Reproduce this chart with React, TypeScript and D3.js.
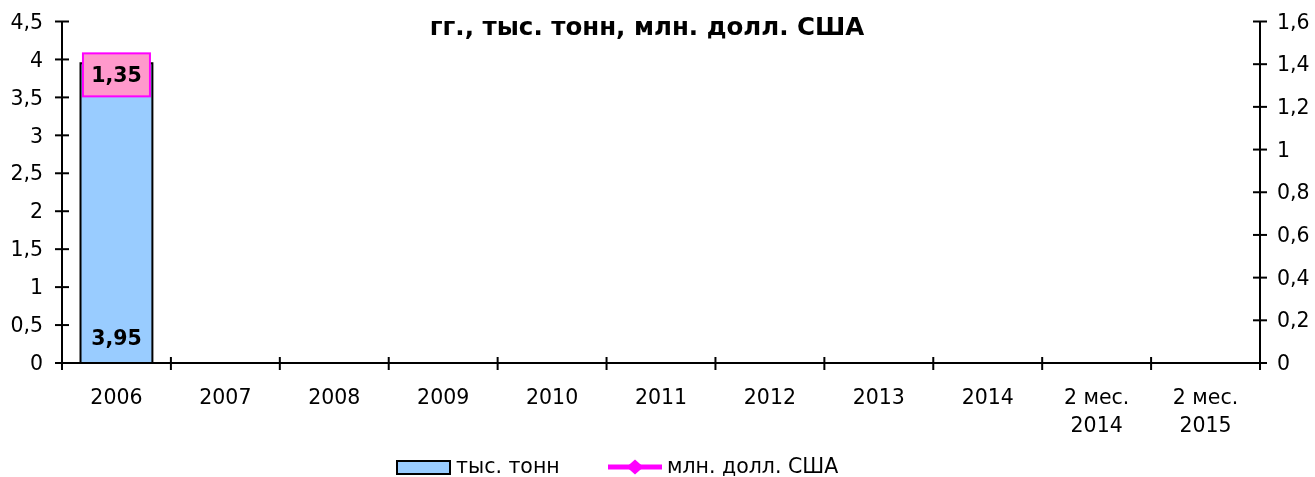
import React, { useRef, useEffect } from 'react';
import * as d3 from 'd3';

const categories = ['2006', '2007', '2008', '2009', '2010', '2011', '2012', '2013', '2014', '2 мес.\n2014', '2 мес.\n2015'];
const tonnes: (number | null)[] = [3.95, null, null, null, null, null, null, null, null, null, null];
const usd: (number | null)[] = [1.35, null, null, null, null, null, null, null, null, null, null];
const leftTicks = [0, 0.5, 1, 1.5, 2, 2.5, 3, 3.5, 4, 4.5];
const rightTicks = [0, 0.2, 0.4, 0.6, 0.8, 1, 1.2, 1.4, 1.6];
const titleText = 'гг., тыс. тонн, млн. долл. США';

const fmt = (v: number) => String(v).replace('.', ',');

const App: React.FC = () => {
    const svgRef = useRef<SVGSVGElement | null>(null);

    useEffect(() => {
        const width = 1315;
        const height = 477;
        const svg = d3.select(svgRef.current);
        svg.selectAll('*').remove();
        svg.attr('width', width).attr('height', height);

        const font = 'Verdana, "DejaVu Sans", sans-serif';
        const fs = '20.5px';
        const left = 62, right = 1260, top = 21.5, bottom = 363;

        const x = d3.scaleBand<string>().domain(categories).range([left, right]).paddingInner(0.34).paddingOuter(0.17);
        const xb = d3.scaleBand<string>().domain(categories).range([left, right]);
        const yL = d3.scaleLinear().domain([0, 4.5]).range([bottom, top]);
        const yR = d3.scaleLinear().domain([0, 1.6]).range([bottom, top]);

        // title
        svg.append('text')
            .attr('x', 647).attr('y', 35)
            .attr('text-anchor', 'middle')
            .style('font-family', font).style('font-size', '24.5px').style('font-weight', 'bold')
            .text(titleText);

        // bars
        categories.forEach((c, i) => {
            const v = tonnes[i];
            if (v == null) return;
            svg.append('rect')
                .attr('x', x(c)!).attr('y', yL(v))
                .attr('width', x.bandwidth()).attr('height', yL(0) - yL(v))
                .attr('fill', '#99ccff').attr('stroke', '#000').attr('stroke-width', 2);
            svg.append('text')
                .attr('x', x(c)! + x.bandwidth() / 2).attr('y', 345)
                .attr('text-anchor', 'middle')
                .style('font-family', font).style('font-size', fs).style('font-weight', 'bold')
                .text(fmt(v));
        });

        // axes
        const axisColor = '#000';
        svg.append('line').attr('x1', left).attr('x2', left).attr('y1', top).attr('y2', bottom)
            .attr('stroke', axisColor).attr('stroke-width', 2);
        svg.append('line').attr('x1', right).attr('x2', right).attr('y1', top).attr('y2', bottom)
            .attr('stroke', axisColor).attr('stroke-width', 2);
        svg.append('line').attr('x1', left).attr('x2', right).attr('y1', bottom).attr('y2', bottom)
            .attr('stroke', axisColor).attr('stroke-width', 2);

        leftTicks.forEach(t => {
            svg.append('line').attr('x1', left - 7).attr('x2', left + 7).attr('y1', yL(t)).attr('y2', yL(t))
                .attr('stroke', axisColor).attr('stroke-width', 2);
            svg.append('text').attr('x', 43).attr('y', yL(t)).attr('dy', '0.35em')
                .attr('text-anchor', 'end')
                .style('font-family', font).style('font-size', fs)
                .text(fmt(t));
        });
        rightTicks.forEach(t => {
            svg.append('line').attr('x1', right - 7).attr('x2', right + 7).attr('y1', yR(t)).attr('y2', yR(t))
                .attr('stroke', axisColor).attr('stroke-width', 2);
            svg.append('text').attr('x', 1277).attr('y', yR(t)).attr('dy', '0.35em')
                .attr('text-anchor', 'start')
                .style('font-family', font).style('font-size', fs)
                .text(fmt(t));
        });
        categories.forEach((c, i) => {
            const tx = xb(c)!;
            svg.append('line').attr('x1', tx).attr('x2', tx).attr('y1', bottom - 6).attr('y2', bottom + 7)
                .attr('stroke', axisColor).attr('stroke-width', 2);
            const lines = c.split('\n');
            const t = svg.append('text')
                .attr('text-anchor', 'middle')
                .style('font-family', font).style('font-size', fs);
            lines.forEach((ln, j) => {
                t.append('tspan').attr('x', tx + xb.bandwidth() / 2).attr('y', 404 + j * 28).text(ln);
            });
            if (i === categories.length - 1) {
                svg.append('line').attr('x1', right).attr('x2', right).attr('y1', bottom - 6).attr('y2', bottom + 7)
                    .attr('stroke', axisColor).attr('stroke-width', 2);
            }
        });

        // line series
        const pts = categories.map((c, i) => ({ c, v: usd[i] })).filter(d => d.v != null) as { c: string; v: number }[];
        const line = d3.line<{ c: string; v: number }>()
            .x(d => xb(d.c)! + xb.bandwidth() / 2)
            .y(d => yR(d.v));
        svg.append('path').datum(pts).attr('d', line).attr('fill', 'none')
            .attr('stroke', '#ff00ff').attr('stroke-width', 3);
        pts.forEach(d => {
            const cx = xb(d.c)! + xb.bandwidth() / 2;
            const cy = yR(d.v);
            svg.append('rect')
                .attr('x', cx - 33.5).attr('y', cy - 21.5)
                .attr('width', 67).attr('height', 43)
                .attr('fill', '#ff99cc').attr('stroke', '#ff00ff').attr('stroke-width', 2);
            svg.append('text').attr('x', cx).attr('y', cy).attr('dy', '0.35em')
                .attr('text-anchor', 'middle')
                .style('font-family', font).style('font-size', fs).style('font-weight', 'bold')
                .text(fmt(d.v));
        });

        // legend
        const lg = svg.append('g');
        lg.append('rect').attr('x', 397).attr('y', 461).attr('width', 53).attr('height', 13)
            .attr('fill', '#99ccff').attr('stroke', '#000').attr('stroke-width', 2);
        lg.append('text').attr('x', 456).attr('y', 472.5)
            .style('font-family', font).style('font-size', fs).text('тыс. тонн');
        lg.append('line').attr('x1', 608).attr('x2', 662).attr('y1', 467).attr('y2', 467)
            .attr('stroke', '#ff00ff').attr('stroke-width', 5);
        lg.append('path').attr('d', 'M0,-7.5L8.5,0L0,7.5L-8.5,0Z')
            .attr('transform', 'translate(635,467)').attr('fill', '#ff00ff');
        lg.append('text').attr('x', 667).attr('y', 472.5)
            .style('font-family', font).style('font-size', fs).text('млн. долл. США');
    }, []);

    return (
        <div style={{ position: 'fixed', left: 0, top: 0, width: 1315, height: 477, overflow: 'hidden' }}>
            <svg ref={svgRef} style={{ display: 'block' }}></svg>
        </div>
    );
};

export default App;
